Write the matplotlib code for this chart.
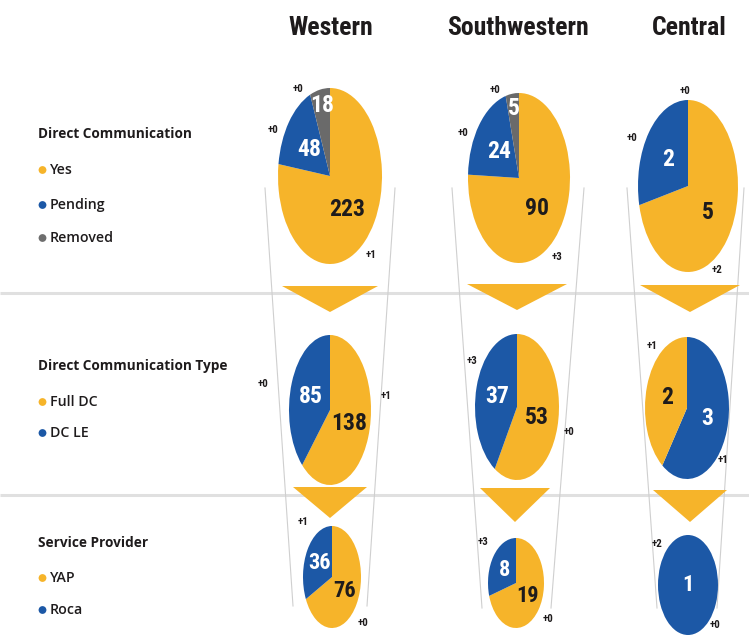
import numpy as np
import matplotlib
matplotlib.use("Agg")
import matplotlib.pyplot as plt
from matplotlib import font_manager as fm
from matplotlib.patches import Polygon, Circle

# ---------------- data ----------------
regions = ["Western", "Southwestern", "Central"]

dc_title = "Direct Communication"
dc_labels = ["Yes", "Pending", "Removed"]
dc_yes = [223, 90, 5]
dc_pending = [48, 24, 2]
dc_removed = [18, 5, 0]
dc_yes_delta = [1, 3, 2]
dc_pending_delta = [0, 0, 0]
dc_removed_delta = [0, 0, 0]

type_title = "Direct Communication Type"
type_labels = ["Full DC", "DC LE"]
type_full = [138, 53, 2]
type_le = [85, 37, 3]
type_full_delta = [1, 0, 1]
type_le_delta = [0, 3, 1]

sp_title = "Service Provider"
sp_labels = ["YAP", "Roca"]
sp_yap = [76, 19, 0]
sp_roca = [36, 8, 1]
sp_yap_delta = [0, 0, 0]
sp_roca_delta = [1, 3, 2]

# ---------------- style ----------------
YELLOW = "#F6B42A"
BLUE = "#1C58A6"
GRAY = "#6A6A6A"
DARK = "#1E1B1C"
W, H = 749, 635

names = {f.name for f in fm.fontManager.ttflist}
COND = "Roboto"
for cand in ["Roboto Condensed", "Liberation Sans Narrow", "Open Sans Condensed"]:
    if cand in names:
        COND = cand
        break
LEG = "Open Sans" if "Open Sans" in names else "DejaVu Sans"

fig = plt.figure(figsize=(W / 100, H / 100), dpi=100)
fig.patch.set_facecolor("white")
main = fig.add_axes([0, 0, 1, 1])
main.set_xlim(0, W)
main.set_ylim(H, 0)
main.axis("off")

# ---------------- layout (pixels) ----------------
col_x = [331, 518, 689]
pie_geom = [
    [(330, 176, 52, 88), (519, 178, 51, 85), (688, 186, 50, 86)],
    [(330, 410, 41, 75), (517, 407, 42, 73), (687, 408, 42, 71)],
    [(332, 577, 29, 51), (516, 583, 28, 45), (688, 585, 30, 50)],
]
# offsets of the change labels from each pie centre (px), per category
delta_off = [
    [[(41, 79), (-57, -46), (-32, -87)],
     [(38, 79), (-56, -45), (-24, -88)],
     [(29, 84), (-56, -48), (-3, -95)]],
    [[(56, -14), (-67, -26)],
     [(52, 25), (-45, -46)],
     [(-35, -62), (36, 52)]],
    [[(31, 46), (-29, -55)],
     [(32, 36), (-33, -41)],
     [(27, 40), (-31, -41)]],
]
funnels = [
    ((265, 188), (293, 606), (395, 188), (367, 606)),
    ((452, 188), (482, 608), (584, 188), (551, 608)),
    ((627, 188), (657, 608), (744, 188), (717, 608)),
]
tri1 = [(282, 378, 286, 312), (467, 567, 284, 310), (640, 740, 285, 312)]
tri2 = [(293, 367, 487, 518), (480, 550, 488, 522), (653, 727, 490, 522)]

# separators
for y in (293, 495):
    main.plot([0, W], [y, y], color="#E0E0E0", lw=2.2, zorder=1, solid_capstyle="butt")

# funnel lines
for (l0, l1, r0, r1) in funnels:
    main.plot([l0[0], l1[0]], [l0[1], l1[1]], color="#CFCFCF", lw=0.8, zorder=2)
    main.plot([r0[0], r1[0]], [r0[1], r1[1]], color="#CFCFCF", lw=0.8, zorder=2)

# chevrons
for (x0, x1, yt, ya) in tri1 + tri2:
    main.add_patch(Polygon([(x0, yt), (x1, yt), ((x0 + x1) / 2, ya)],
                           closed=True, facecolor=YELLOW, edgecolor="none", zorder=3))

# titles
for cx, name in zip(col_x, regions):
    main.text(cx, 28, name, ha="center", va="center", fontsize=18.5,
              fontweight="bold", family=COND, color=DARK)

# legends
def legend(y0, title, labels, colors, ys):
    main.text(38, y0, title, ha="left", va="center", fontsize=9.8,
              fontweight="bold", family=LEG, color=DARK)
    for lab, c, y in zip(labels, colors, ys):
        main.add_patch(Circle((42.5, y), 3.9, facecolor=c, edgecolor="none"))
        main.text(50, y, lab, ha="left", va="center", fontsize=10.2,
                  fontweight="semibold", family=LEG, color=DARK)

legend(134, dc_title, dc_labels, [YELLOW, BLUE, "#6E6E6E"], [170, 205, 238])
legend(366, type_title, type_labels, [YELLOW, BLUE], [402, 433])
legend(543, sp_title, sp_labels, [YELLOW, BLUE], [578, 610])


def draw_pie(geom, values, colors, txtcolors, deltas, offs, fs):
    cx, cy, rx, ry = geom
    ax = fig.add_axes([(cx - rx) / W, 1 - (cy + ry) / H, 2 * rx / W, 2 * ry / H])
    order = sorted(range(len(values)), key=lambda i: -values[i])
    vals = [values[i] for i in order]
    cols = [colors[i] for i in order]
    wedges, _ = ax.pie(vals, colors=cols, startangle=90, counterclock=False,
                       radius=1, wedgeprops=dict(linewidth=0))
    ax.set_aspect("auto")
    ax.set_xlim(-1, 1)
    ax.set_ylim(-1, 1)
    ax.axis("off")
    total = float(sum(vals))
    for w, v, i in zip(wedges, vals, order):
        if v <= 0:
            continue
        frac = v / total
        if frac >= 0.999:
            d = 0.0
        elif frac < 0.1:
            d = 0.82
        else:
            d = 0.5
        mid = np.deg2rad((w.theta1 + w.theta2) / 2)
        ax.text(d * np.cos(mid), d * np.sin(mid), str(v), ha="center", va="center",
                fontsize=fs, fontweight="bold", family=COND, color=txtcolors[i])
    for dv, (ox, oy) in zip(deltas, offs):
        main.text(cx + ox, cy + oy, "+%d" % dv, ha="center", va="center",
                  fontsize=7.8, fontweight="bold", family=COND, color=DARK, zorder=6)


for k in range(3):
    draw_pie(pie_geom[0][k], [dc_yes[k], dc_pending[k], dc_removed[k]],
             [YELLOW, BLUE, GRAY], [DARK, "white", "white"],
             [dc_yes_delta[k], dc_pending_delta[k], dc_removed_delta[k]],
             delta_off[0][k], 17)
    draw_pie(pie_geom[1][k], [type_full[k], type_le[k]],
             [YELLOW, BLUE], [DARK, "white"],
             [type_full_delta[k], type_le_delta[k]],
             delta_off[1][k], 17)
    draw_pie(pie_geom[2][k], [sp_yap[k], sp_roca[k]],
             [YELLOW, BLUE], [DARK, "white"],
             [sp_yap_delta[k], sp_roca_delta[k]],
             delta_off[2][k], 16)

fig.savefig("out.png", dpi=100, facecolor="white")
